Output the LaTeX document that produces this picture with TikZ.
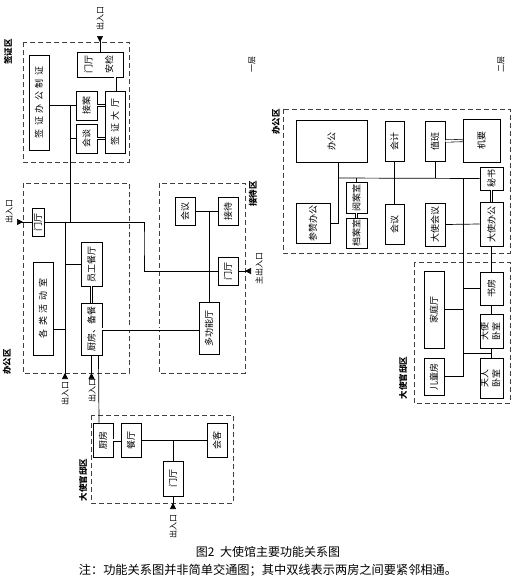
\documentclass[tikz,border=0pt]{standalone}
\usepackage{fontspec}
\newfontfamily\cjk{Noto Sans CJK SC}
\usetikzlibrary{arrows.meta,calc}
\newcommand{\vtxt}[1]{\rotatebox{90}{#1}}
\newcommand{\vwide}[1]{\rotatebox{90}{\addfontfeature{LetterSpace=40}#1}}
\newcommand{\vtwo}[3][1pt]{\rotatebox{90}{\begin{tabular}{@{}c@{}}#2\\[#1]#3\end{tabular}}}

\begin{document}
\begin{tikzpicture}[x=1pt,y=-1pt,
  every node/.style={font=\cjk\fontsize{9}{10.5}\selectfont},
  room/.style={draw,line width=0.9pt,inner sep=0pt},
  zone/.style={draw=black!75,line width=0.8pt,dash pattern=on 5pt off 3pt},
  dbl/.style={double,double distance=1.8pt,line width=0.6pt},
  entry/.style={-{Triangle[reversed,length=6pt,width=6pt]}},
  tag/.style={font=\cjk\fontsize{8}{9}\selectfont,inner sep=0pt},
  zonetag/.style={font=\cjk\bfseries\fontsize{8.5}{9}\selectfont,inner sep=0pt},
  line width=0.7pt]
  \useasboundingbox (0,0) rectangle (520,582);

  % first floor: visa zone
  \draw[zone] (23,42) rectangle (129,162);
  \node[zonetag] (qzq) at (8,52) {\vtxt{签证区}};
  \node[room,minimum width=20,minimum height=95] (vzbg) at (39,102.5) {\vwide{签证办公制证}};
  \node[room,minimum width=46,minimum height=25] (vmt) at (100,64.5) {\vtwo[10pt]{门厅}{安检}};
  \node[room,minimum width=21,minimum height=29] (vja) at (86.5,105.5) {\vtxt{接案}};
  \node[room,minimum width=21,minimum height=29] (vht) at (86.5,138.5) {\vtxt{会谈}};
  \node[room,minimum width=20,minimum height=62] (vdt) at (115,122) {\vwide{签证大厅}};

  % first floor: office zone
  \draw[zone] (23,183) rectangle (129,373);
  \node[zonetag] (bgq1) at (7,362) {\vtxt{办公区}};
  \node[room,minimum width=12,minimum height=28] (omt) at (38,222) {\vtxt{门厅}};
  \node[room,minimum width=20,minimum height=93] (ohd) at (43,308.5) {\vwide{各类活动室}};
  \node[room,minimum width=21,minimum height=44] (oyg) at (91.5,264) {\vtxt{员工餐厅}};
  \node[room,minimum width=21,minimum height=52] (ocf) at (91.5,329) {\vtxt{厨房、备餐}};

  % first floor: reception zone
  \draw[zone] (159,183) rectangle (245,373);
  \node[zonetag] (jdq) at (253,194) {\vtxt{接待区}};
  \node[room,minimum width=20,minimum height=28] (rhy) at (185,211) {\vtxt{会议}};
  \node[room,minimum width=20,minimum height=28] (rjd) at (228,211) {\vtxt{接待}};
  \node[room,minimum width=20,minimum height=28] (rmt) at (228,271) {\vtxt{门厅}};
  \node[room,minimum width=20,minimum height=52] (rdg) at (209,328) {\vtxt{多功能厅}};

  % first floor: residence zone
  \draw[zone] (91,415) rectangle (233,503);
  \node[zonetag] (gdq1) at (83,480) {\vtxt{大使官邸区}};
  \node[room,minimum width=20,minimum height=34] (hcf) at (103,440) {\vtxt{厨房}};
  \node[room,minimum width=20,minimum height=34] (hct) at (131,440) {\vtxt{餐厅}};
  \node[room,minimum width=20,minimum height=34] (hhk) at (217,440) {\vtxt{会客}};
  \node[room,minimum width=20,minimum height=35] (hmt) at (173,478.5) {\vtxt{门厅}};

  \node[tag] (yc) at (252,64) {\vtxt{一层}};

  % first floor links
  \coordinate (j1) at (70,222);
  \coordinate (j2) at (65,222);
  \coordinate (bend) at (144,240);
  \draw[dbl] (vdt.north) -- (vdt.north |- vmt.south);
  \draw[dbl] (vja.east) -- (vja.east -| vdt.west);
  \draw[dbl] (vht.east) -- (vht.east -| vdt.west);
  \draw (vzbg.east |- vja.west) -- (vja.west);
  \draw (j1 |- vja.west) -- (j1);
  \draw (vht.west) -- (vht.west -| j1);
  \draw (omt.east) -| (bend) |- (rmt.west);
  \draw (oyg.west) -- (oyg.west -| j2);
  \draw (ohd.east |- ocf.west) -- (j2 |- ocf.west);
  \draw[dbl] (oyg.south) -- (ocf.north);
  \draw[dbl] (ocf.east) -- (ocf.east -| rdg.west);
  \draw ($(ocf.south)+(7,0)$) -- ($(hcf.north)+(-4,0)$);
  \draw (rhy.east) -- (rjd.west);
  \draw (rdg.north) -- (rdg.north |- rhy.east);
  \draw[dbl] (hcf.east) -- (hct.west);
  \draw (hct.east) -- (hhk.west);
  \draw (hmt.north) -- (hmt.north |- hct.east);

  % entrances
  \coordinate (a0) at (100,36);
  \coordinate (a1) at (17,222);
  \coordinate (a2) at (65,379);
  \coordinate (a4) at (251,271);
  \coordinate (a5) at (173,509);
  \draw[entry] (vmt.north) -- (a0);
  \draw[entry] (omt.west) -- (a1);
  \draw[entry] (j2) -- (a2);
  \draw[entry] (ocf.south) -- (ocf.south |- a2);
  \draw[entry] (rmt.east) -- (a4);
  \draw[entry] (hmt.south) -- (a5);
  \node[tag] (l0) at (100,18) {\vtxt{出入口}};
  \node[tag] (l1) at (9,211) {\vtxt{出入口}};
  \node[tag] (l2) at (65,393) {\vtxt{出入口}};
  \node[tag] (l3) at (92,390) {\vtxt{出入口}};
  \node[tag] (l4) at (259,268) {\vtxt{主出入口}};
  \node[tag] (l5) at (173,526) {\vtxt{出入口}};

  % second floor: office zone
  \draw[zone] (283,109) rectangle (510,253);
  \node[zonetag] (bgq2) at (276,122) {\vtxt{办公区}};
  \node[room,minimum width=71,minimum height=42] (sbg) at (331.5,141) {\vtxt{办公}};
  \node[room,minimum width=19,minimum height=40] (skj) at (394.5,141) {\vtxt{会计}};
  \node[room,minimum width=20,minimum height=40] (szb) at (435,141) {\vtxt{值班}};
  \node[room,minimum width=37,minimum height=43] (sjy) at (481.5,140.5) {\vtxt{机要}};
  \node[room,minimum width=23,minimum height=23] (sms) at (491.5,178.5) {\vtxt{秘书}};
  \node[room,minimum width=34,minimum height=40] (scz) at (313,223) {\vtxt{参赞办公}};
  \node[room,minimum width=21,minimum height=31] (syd) at (356.5,197.5) {\vtxt{阅案室}};
  \node[room,minimum width=21,minimum height=30] (sda) at (356.5,233) {\vtxt{档案室}};
  \node[room,minimum width=19,minimum height=40] (shy) at (394.5,224) {\vtxt{会议}};
  \node[room,minimum width=20,minimum height=43] (sdh) at (435,224.5) {\vtxt{大使会议}};
  \node[room,minimum width=23,minimum height=44] (sdb) at (491.5,224) {\vtxt{大使办公}};

  % second floor: residence zone
  \draw[zone] (414,262) rectangle (510,403);
  \node[zonetag] (gdq2) at (403,378) {\vtxt{大使官邸区}};
  \node[room,minimum width=20,minimum height=77] (tjt) at (434,309.5) {\vtxt{家庭厅}};
  \node[room,minimum width=20,minimum height=37] (tet) at (434,376.5) {\vtxt{儿童房}};
  \node[room,minimum width=23,minimum height=33] (tsf) at (491.5,288.5) {\vtxt{书房}};
  \node[room,minimum width=23,minimum height=34] (tds) at (491.5,331) {\vtwo{大使}{卧室}};
  \node[room,minimum width=23,minimum height=40] (tfr) at (491.5,378) {\vtwo{夫人}{卧室}};

  \node[tag] (ec) at (501,64) {\vtxt{二层}};

  % second floor links
  \coordinate (m1) at (338,178);
  \coordinate (m2) at (463,178);
  \coordinate (m3) at (491.5,353);
  \draw (m1) -- (sms.west);
  \draw (sbg.south -| m1) |- (scz.east);
  \draw (skj.south) -- (shy.north);
  \draw (szb.south) -- (szb.south |- m1);
  \draw (syd.north) -- (syd.north |- m1);
  \draw[dbl] (syd.south) -- (sda.north);
  \draw[dbl] (szb.east) -- (sjy.west);
  \draw[dbl] (sms.south) -- (sdb.north);
  \draw (sdh.east) -- (sdb.west);
  \draw (m2) |- (tet.east);
  \draw (tsf.west) -- (tsf.west -| m2);
  \draw (tjt.east) -- (tjt.east -| m2);
  \draw (m2 |- m3) -- (m3);
  \draw (sdb.south) -- (tsf.north);
  \draw (tsf.south) -- (tds.north);
  \draw (tds.south) -- (tfr.north);

  % caption
  \node[font=\cjk\fontsize{12}{14}\selectfont] (cap) at (268,552) {图2\ \ 大使馆主要功能关系图};
  \node[font=\cjk\fontsize{12.2}{14}\selectfont] (note) at (268,570) {注：功能关系图并非简单交通图；其中双线表示两房之间要紧邻相通。};
\end{tikzpicture}
\end{document}
